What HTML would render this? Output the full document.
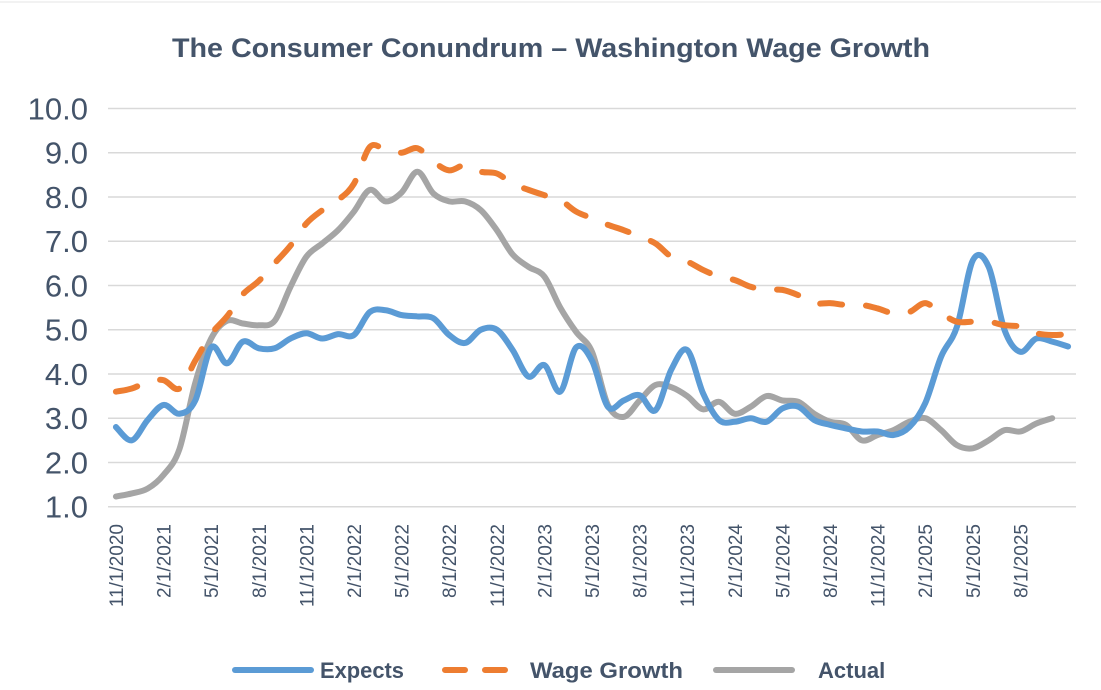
<!DOCTYPE html>
<html><head><meta charset="utf-8"><style>
body{margin:0;background:#fff;}
svg{display:block;font-family:"Liberation Sans",Calibri,sans-serif;}
</style></head><body>
<svg id="chart" width="1101" height="690" viewBox="0 0 1101 690">
<rect x="0" y="0" width="1101" height="690" fill="#fff"/>
<line x1="0" y1="2" x2="1101" y2="2" stroke="#e6e6e6" stroke-width="1"/>
<text x="551" y="57" text-anchor="middle" font-size="27" font-weight="bold" fill="#44546a" textLength="758" lengthAdjust="spacingAndGlyphs">The Consumer Conundrum – Washington Wage Growth</text>
<g id="grid"></g><g id="ylabels"></g><g id="xlabels"></g><g id="series"></g>
<g>
<line x1="235" y1="670" x2="311" y2="670" stroke="#5b9bd5" stroke-width="6" stroke-linecap="round"/>
<text x="320" y="678" font-size="22" font-weight="bold" fill="#44546a" textLength="84" lengthAdjust="spacingAndGlyphs">Expects</text>
<line x1="445" y1="670" x2="516" y2="670" stroke="#ed7d31" stroke-width="6" stroke-linecap="round" stroke-dasharray="20 20"/>
<text x="530" y="678" font-size="22" font-weight="bold" fill="#44546a" textLength="153" lengthAdjust="spacingAndGlyphs">Wage Growth</text>
<line x1="716" y1="670" x2="792" y2="670" stroke="#a5a5a5" stroke-width="6" stroke-linecap="round"/>
<text x="818" y="678" font-size="22" font-weight="bold" fill="#44546a">Actual</text>
</g>
</svg>
<script>
const yTicks=[1,2,3,4,5,6,7,8,9,10];
const xLabels=["11/1/2020","2/1/2021","5/1/2021","8/1/2021","11/1/2021","2/1/2022","5/1/2022","8/1/2022","11/1/2022","2/1/2023","5/1/2023","8/1/2023","11/1/2023","2/1/2024","5/1/2024","8/1/2024","11/1/2024","2/1/2025","5/1/2025","8/1/2025"];
const expects=[2.8,2.5,2.96,3.3,3.1,3.4,4.6,4.24,4.73,4.58,4.58,4.8,4.92,4.8,4.9,4.88,5.4,5.44,5.33,5.3,5.26,4.88,4.7,5.0,5.0,4.54,3.94,4.2,3.6,4.6,4.3,3.26,3.4,3.52,3.18,4.1,4.54,3.56,2.96,2.92,3.0,2.92,3.22,3.26,2.96,2.85,2.77,2.7,2.7,2.62,2.8,3.34,4.39,5.07,6.57,6.42,4.99,4.5,4.8,4.73,4.62];
const wageGrowth=[3.6,3.67,3.82,3.86,3.67,4.3,4.9,5.3,5.8,6.1,6.5,6.9,7.4,7.7,7.93,8.3,9.13,9.06,9.0,9.1,8.8,8.6,8.72,8.57,8.53,8.3,8.16,8.04,7.93,7.67,7.52,7.37,7.25,7.1,6.95,6.65,6.54,6.35,6.2,6.12,5.97,5.9,5.9,5.78,5.6,5.6,5.56,5.56,5.48,5.37,5.4,5.6,5.37,5.18,5.18,5.18,5.1,5.07,4.92,4.88,4.9];
const actual=[1.23,1.3,1.41,1.72,2.3,3.8,4.8,5.2,5.14,5.1,5.2,5.97,6.65,6.95,7.25,7.67,8.16,7.9,8.1,8.57,8.08,7.9,7.9,7.7,7.25,6.7,6.42,6.2,5.5,4.95,4.5,3.3,3.03,3.4,3.75,3.7,3.5,3.2,3.37,3.1,3.26,3.5,3.4,3.37,3.1,2.92,2.85,2.5,2.62,2.73,2.92,3.0,2.73,2.39,2.32,2.5,2.73,2.7,2.88,3.0];
const NS="http://www.w3.org/2000/svg";
const L=108,R=1076,N=61,step=(R-L)/N;
const xs=i=>L+step*(i+0.5);
const ys=v=>506.7-(v-1)*44.25;
function mk(t,a,p){const e=document.createElementNS(NS,t);for(const k in a)e.setAttribute(k,a[k]);p.appendChild(e);return e;}
const grid=document.getElementById('grid'),yl=document.getElementById('ylabels'),xl=document.getElementById('xlabels'),ser=document.getElementById('series');
yTicks.forEach(v=>{
 const g=mk('line',{x1:L,x2:R,y1:ys(v),y2:ys(v),stroke:'#d9d9d9','stroke-width':1.5},grid);
 
 
 const t=mk('text',{x:88,y:ys(v)+11,'text-anchor':'end','font-size':31,fill:'#44546a'},yl);
 t.textContent=v.toFixed(1);
 
 
});
xLabels.forEach((s,k)=>{
 const x=xs(k*3)+7,y=524;
 const t=mk('text',{x:x,y:y,'text-anchor':'end','font-size':19,fill:'#44546a',transform:`rotate(-90 ${x} ${y})`},xl);
 t.textContent=s;
 
 
});
function path(arr){
 const p=arr.map((v,i)=>[xs(i),ys(v)]);
 let d=`M${p[0][0]},${p[0][1]}`;
 for(let i=0;i<p.length-1;i++){
  const p0=p[i-1]||p[i],p1=p[i],p2=p[i+1],p3=p[i+2]||p2;
  const c1=[p1[0]+(p2[0]-p0[0])/6,p1[1]+(p2[1]-p0[1])/6],c2=[p2[0]-(p3[0]-p1[0])/6,p2[1]-(p3[1]-p1[1])/6];
  d+=`C${c1[0]},${c1[1]} ${c2[0]},${c2[1]} ${p2[0]},${p2[1]}`;
 }
 return d;
}
const e3=mk('path',{d:path(actual),fill:'none',stroke:'#a5a5a5','stroke-width':6,'stroke-linejoin':'round','stroke-linecap':'round'},ser);


const e1=mk('path',{d:path(expects),fill:'none',stroke:'#5b9bd5','stroke-width':6,'stroke-linejoin':'round','stroke-linecap':'round'},ser);


const e2=mk('path',{d:path(wageGrowth),fill:'none',stroke:'#ed7d31','stroke-width':6,'stroke-linecap':'round','stroke-dasharray':'22 24'},ser);


</script>
</body></html>
